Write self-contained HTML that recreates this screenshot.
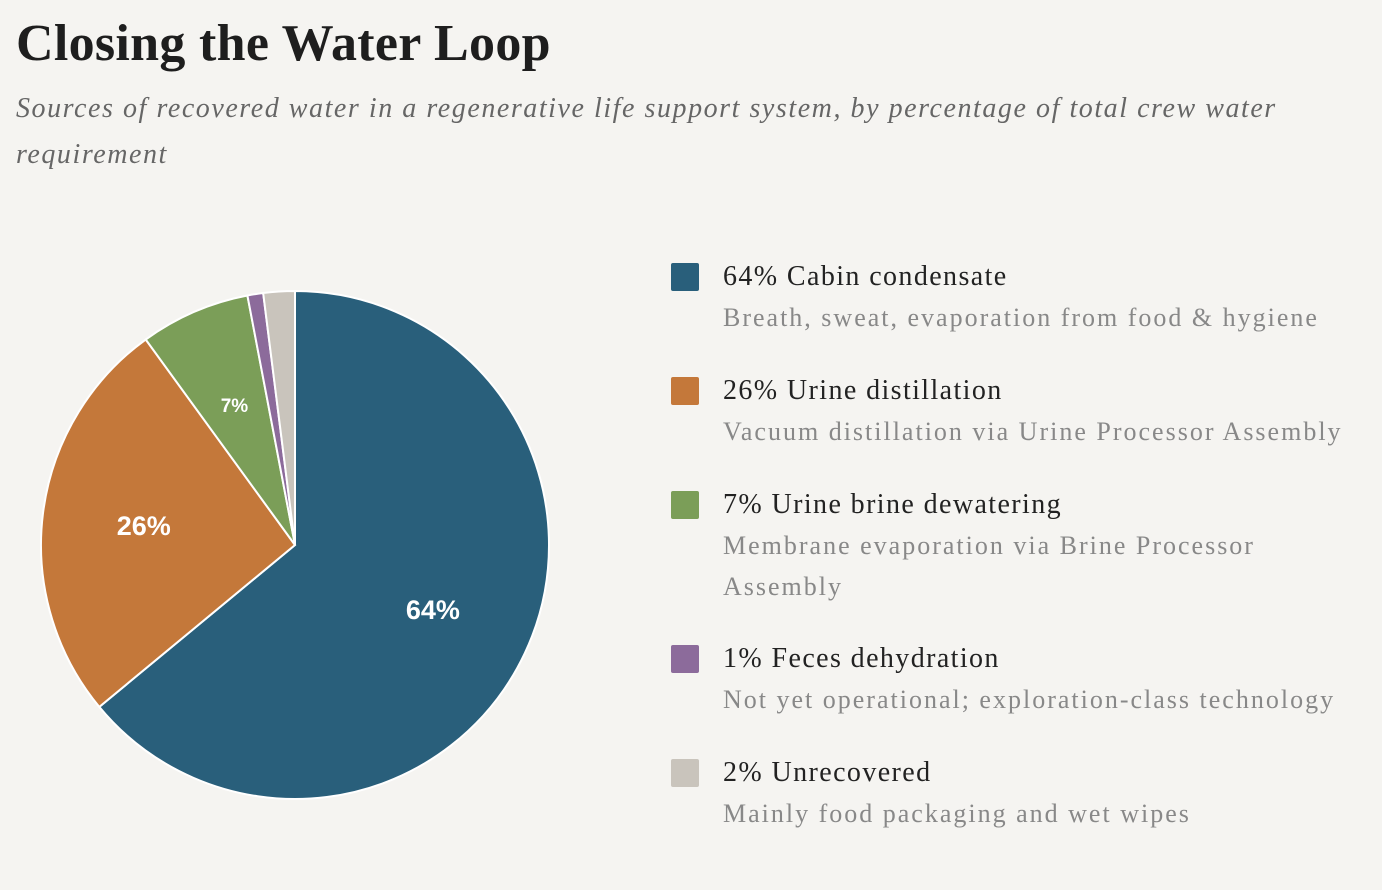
<!DOCTYPE html>
<html><head><meta charset="utf-8"><style>
body{margin:0;background:#f5f4f1;width:1382px;height:890px;overflow:hidden;font-family:"Liberation Serif",serif;}
h1{position:absolute;left:16px;top:14px;margin:0;font-size:52px;font-weight:bold;color:#1e1e1e;letter-spacing:0.3px}
.sub{position:absolute;left:16px;top:86px;width:1320px;font-style:italic;font-size:28px;letter-spacing:1.55px;line-height:46px;color:#666}
.leg{position:absolute;left:671px;}
.sw{position:absolute;left:0;top:0;width:28px;height:28px;border-radius:2px}
.lab{position:absolute;left:52px;top:-2px;font-size:28px;letter-spacing:1.4px;color:#222;white-space:nowrap}
.desc{position:absolute;left:52px;top:34px;font-size:26px;letter-spacing:2px;line-height:41px;color:#888;width:680px}
</style></head><body>
<h1>Closing the Water Loop</h1>
<div class="sub">Sources of recovered water in a regenerative life support system, by percentage of total crew water requirement</div>
<svg id="pie" width="600" height="890" style="position:absolute;left:0;top:0"></svg>
<div id="legend"></div>
<script>
const categories=["Cabin condensate","Urine distillation","Urine brine dewatering","Feces dehydration","Unrecovered"];
const values=[64,26,7,1,2];
const descs=["Breath, sweat, evaporation from food & hygiene","Vacuum distillation via Urine Processor Assembly","Membrane evaporation via Brine Processor Assembly","Not yet operational; exploration-class technology","Mainly food packaging and wet wipes"];
const colors=["#295f7b","#c4783a","#7b9e58","#8c6b9b","#c9c4bc"];
const NS="http://www.w3.org/2000/svg",svg=document.getElementById('pie');
const cx=295,cy=545,r=254;
const total=values.reduce((a,b)=>a+b,0);
let a0=0;
values.forEach((v,i)=>{
  const a1=a0+v/total*2*Math.PI;
  const p=(a)=>[cx+r*Math.sin(a),cy-r*Math.cos(a)];
  const [x0,y0]=p(a0),[x1,y1]=p(a1);
  const path=document.createElementNS(NS,'path');
  path.setAttribute('d',`M${cx},${cy}L${x0},${y0}A${r},${r} 0 ${a1-a0>Math.PI?1:0} 1 ${x1},${y1}Z`);
  path.setAttribute('fill',colors[i]);path.setAttribute('stroke','#fff');path.setAttribute('stroke-width','2');
  
  
  svg.appendChild(path);
  if(v>=5){
    const m=(a0+a1)/2,rr=0.6*r;
    const t=document.createElementNS(NS,'text');
    t.setAttribute('x',cx+rr*Math.sin(m));t.setAttribute('y',cy-rr*Math.cos(m)+(v>=20?9:7));
    t.setAttribute('text-anchor','middle');t.setAttribute('fill','#fff');
    t.setAttribute('font-family','"Liberation Sans",sans-serif');t.setAttribute('font-weight','bold');
    t.setAttribute('font-size',v>=20?27:19);
    t.textContent=v+'%';
    
    
    svg.appendChild(t);
  }
  a0=a1;
});
const tops=[263,377,491,645,759];
const leg=document.getElementById('legend');
categories.forEach((c,i)=>{
  const d=document.createElement('div');d.className='leg';d.style.top=tops[i]+'px';
  
  
  d.innerHTML=`<div class="sw" style="background:${colors[i]}"></div><div class="lab">${values[i]}% ${c}</div><div class="desc">${descs[i].replace('&','&amp;')}</div>`;
  if(i==2){d.querySelector('.desc').style.width='570px';}
  leg.appendChild(d);
});
</script>
</body></html>
